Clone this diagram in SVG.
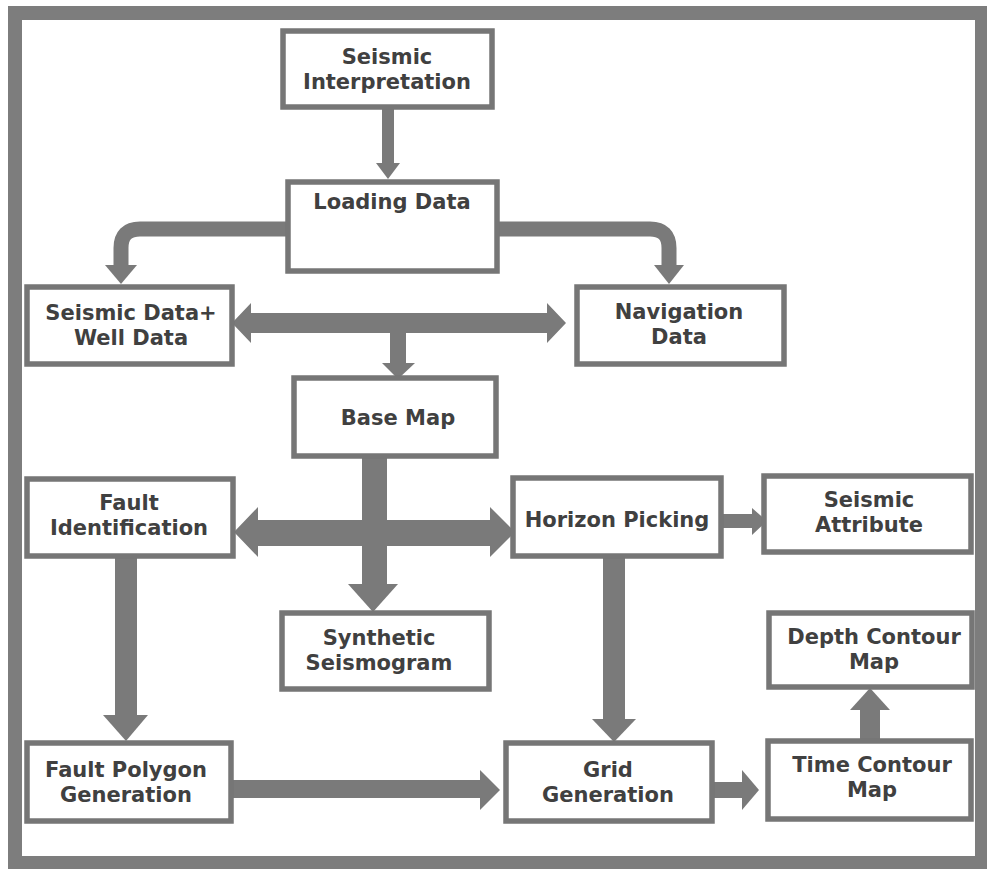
<svg xmlns="http://www.w3.org/2000/svg" width="987" height="869" viewBox="0 0 987 869">
<style>
.box{fill:#ffffff;stroke:#767676;stroke-width:5.5}
.t{font-family:"DejaVu Sans",Verdana,sans-serif;font-weight:bold;font-size:21px;fill:#404040;text-anchor:middle}
.a{fill:#7a7a7a}
.s{fill:none;stroke:#7a7a7a;stroke-width:15}
</style>
<rect x="0" y="0" width="987" height="869" fill="#ffffff"/>
<rect id="frame" x="15" y="13" width="967" height="850" fill="none" stroke="#7d7d7d" stroke-width="14"/>
<g id="connectors">
  <!-- SI -> LD -->
  <rect class="a" x="382" y="108" width="12" height="57"/>
  <polygon class="a" points="376,163 400,163 388,179"/>
  <!-- LD -> SDWD curved -->
  <path class="s" d="M290 229 H140 Q121 229 121 248 V267"/>
  <polygon class="a" points="105,265 137,265 121,284"/>
  <!-- LD -> Nav curved -->
  <path class="s" d="M498 229 H650 Q669 229 669 248 V267"/>
  <polygon class="a" points="654,265 684,265 669,284"/>
  <!-- SDWD <-> Nav -->
  <polygon class="a" points="232,323 251,303 251,313 547,313 547,303 566,323 547,343 547,333 251,333 251,343"/>
  <!-- to Base Map -->
  <rect class="a" x="390" y="332" width="16" height="33"/>
  <polygon class="a" points="382,363 415,363 398,379"/>
  <!-- FI <-> HP -->
  <polygon class="a" points="234,532 258,507 258,520 490,520 490,507 515,532 490,557 490,546 258,546 258,557"/>
  <!-- Base Map -> Synthetic Seismogram -->
  <rect class="a" x="362" y="448" width="25" height="138"/>
  <polygon class="a" points="348,584 398,584 373,612"/>
  <!-- HP -> SA -->
  <rect class="a" x="722" y="514" width="31" height="14"/>
  <polygon class="a" points="752,508 752,535 767,521"/>
  <!-- FI -> FPG -->
  <rect class="a" x="115" y="557" width="22" height="160"/>
  <polygon class="a" points="103,715 148,715 126,741"/>
  <!-- HP -> GG -->
  <rect class="a" x="603" y="557" width="22" height="164"/>
  <polygon class="a" points="592,719 636,719 614,742"/>
  <!-- FPG -> GG -->
  <rect class="a" x="232" y="780" width="250" height="18"/>
  <polygon class="a" points="480,770 480,810 500,790"/>
  <!-- GG -> TCM -->
  <rect class="a" x="713" y="782" width="31" height="16"/>
  <polygon class="a" points="742,770 742,810 759,790"/>
  <!-- TCM -> DCM -->
  <rect class="a" x="860" y="708" width="20" height="33"/>
  <polygon class="a" points="850,710 890,710 870,688"/>
</g>
<g id="seismic-interpretation">
  <rect class="box" x="283" y="31" width="209" height="76"/>
  <text class="t" x="387" y="64">Seismic</text>
  <text class="t" x="387" y="89">Interpretation</text>
</g>
<g id="loading-data">
  <rect class="box" x="288" y="182" width="209" height="89"/>
  <text class="t" x="392" y="209">Loading Data</text>
</g>
<g id="seismic-well-data">
  <rect class="box" x="27" y="287" width="205" height="77"/>
  <text class="t" x="131" y="320">Seismic Data+</text>
  <text class="t" x="131" y="345">Well Data</text>
</g>
<g id="navigation-data">
  <rect class="box" x="577" y="287" width="207" height="77"/>
  <text class="t" x="679" y="319">Navigation</text>
  <text class="t" x="679" y="344">Data</text>
</g>
<g id="base-map">
  <rect class="box" x="294" y="378" width="202" height="78"/>
  <text class="t" x="398" y="425">Base Map</text>
</g>
<g id="fault-identification">
  <rect class="box" x="27" y="479" width="206" height="77"/>
  <text class="t" x="129" y="510">Fault</text>
  <text class="t" x="129" y="535">Identification</text>
</g>
<g id="horizon-picking">
  <rect class="box" x="513" y="478" width="208" height="78"/>
  <text class="t" x="617" y="527">Horizon Picking</text>
</g>
<g id="seismic-attribute">
  <rect class="box" x="764" y="476" width="207" height="76"/>
  <text class="t" x="869" y="507">Seismic</text>
  <text class="t" x="869" y="532">Attribute</text>
</g>
<g id="synthetic-seismogram">
  <rect class="box" x="282" y="613" width="207" height="76"/>
  <text class="t" x="379" y="645">Synthetic</text>
  <text class="t" x="379" y="670">Seismogram</text>
</g>
<g id="depth-contour-map">
  <rect class="box" x="769" y="613" width="203" height="74"/>
  <text class="t" x="874" y="644">Depth Contour</text>
  <text class="t" x="874" y="669">Map</text>
</g>
<g id="fault-polygon-generation">
  <rect class="box" x="27" y="743" width="204" height="78"/>
  <text class="t" x="126" y="777">Fault Polygon</text>
  <text class="t" x="126" y="802">Generation</text>
</g>
<g id="grid-generation">
  <rect class="box" x="506" y="743" width="206" height="78"/>
  <text class="t" x="608" y="777">Grid</text>
  <text class="t" x="608" y="802">Generation</text>
</g>
<g id="time-contour-map">
  <rect class="box" x="768" y="741" width="203" height="78"/>
  <text class="t" x="872" y="772">Time Contour</text>
  <text class="t" x="872" y="797">Map</text>
</g>
</svg>
